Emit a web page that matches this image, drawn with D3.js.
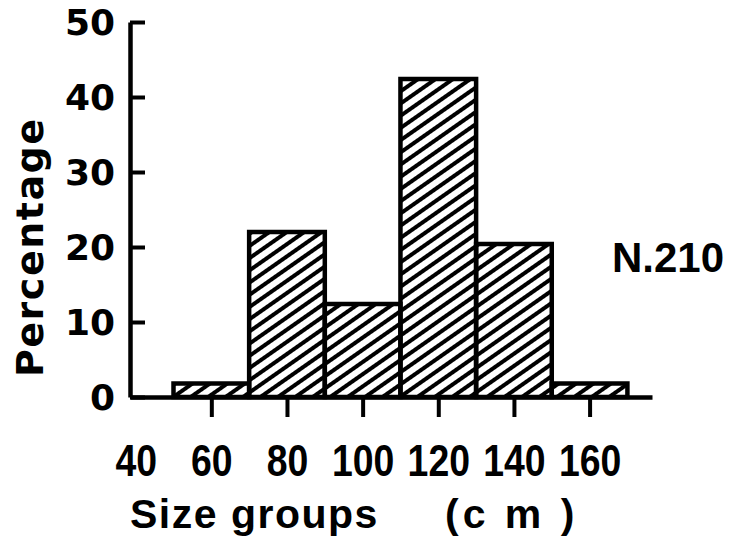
<!DOCTYPE html>
<html>
<head>
<meta charset="utf-8">
<script src="https://cdn.jsdelivr.net/npm/d3@7"></script>
<style>
  body { margin: 0; background: #fff; }
  .chart text { fill: #000; font-weight: bold; }
</style>
</head>
<body>
<div class="chart"></div>
<script>
// size groups (bin start, cm) and percentage in each
var binStart = [50, 70, 90, 110, 130, 150];
var binWidth = 20;
var percentage = [1.8, 22, 12.4, 42.4, 20.4, 1.8];
var xTicks = [40, 60, 80, 100, 120, 140, 160];
var yTicks = [0, 10, 20, 30, 40, 50];

var svgWidth = 744;
var svgHeight = 550;

var margin = { top: 22, right: 92, bottom: 153, left: 130 };
var width = svgWidth - margin.left - margin.right;
var height = svgHeight - margin.top - margin.bottom;

var svg = d3.select(".chart")
  .append("svg")
  .attr("width", svgWidth)
  .attr("height", svgHeight);

// diagonal hatching for the bars
svg.append("defs")
  .append("pattern")
  .attr("id", "hatch")
  .attr("patternUnits", "userSpaceOnUse")
  .attr("width", 10)
  .attr("height", 10)
  .attr("patternTransform", "rotate(-35)")
  .append("rect")
  .attr("width", 10)
  .attr("height", 4)
  .attr("fill", "#000");

var chartGroup = svg.append("g")
  .attr("transform", `translate(${margin.left}, ${margin.top})`);

var xScale = d3.scaleLinear()
  .domain([38.5, 176.5])
  .range([0, width]);

var yScale = d3.scaleLinear()
  .domain([0, 50])
  .range([height, 0]);

var bins = binStart.map((d, i) => ({ x0: d, x1: d + binWidth, value: percentage[i] }));

// bars
chartGroup.selectAll("rect.bar")
  .data(bins)
  .enter()
  .append("rect")
  .attr("class", "bar")
  .attr("x", d => xScale(d.x0))
  .attr("y", d => yScale(d.value))
  .attr("width", d => xScale(d.x1) - xScale(d.x0))
  .attr("height", d => yScale(0) - yScale(d.value))
  .attr("fill", "url(#hatch)")
  .attr("stroke", "#000")
  .attr("stroke-width", 4.5);

// x axis, ticks sit at the middle of each group
var bottomAxis = d3.axisBottom(xScale)
  .tickValues(xTicks)
  .tickFormat(d3.format("d"))
  .tickSizeInner(20)
  .tickSizeOuter(0);

var xAxis = chartGroup.append("g")
  .attr("transform", `translate(0, ${height})`)
  .call(bottomAxis);

xAxis.select(".domain").attr("stroke-width", 4.5);
xAxis.selectAll(".tick line").attr("stroke-width", 4);
xAxis.selectAll(".tick").filter(d => d === 40).select("line").remove();
// narrow lettering like the original
xAxis.selectAll(".tick text")
  .attr("y", 79)
  .attr("dy", 0)
  .attr("transform", "scale(0.85, 1)")
  .style("font-family", "'Liberation Sans', Arial, sans-serif")
  .style("font-size", "44px");

// y axis with ticks pointing into the plot
var leftAxis = d3.axisLeft(yScale)
  .tickValues(yTicks)
  .tickSizeInner(-15)
  .tickSizeOuter(0)
  .tickPadding(15);

var yAxis = chartGroup.append("g")
  .call(leftAxis);

yAxis.select(".domain").attr("stroke-width", 4.5);
yAxis.selectAll(".tick line").attr("stroke-width", 4);
yAxis.selectAll(".tick text")
  .attr("dy", "0.36em")
  .style("font-family", "'DejaVu Sans', sans-serif")
  .style("font-size", "36px");

// axis titles
chartGroup.append("text")
  .attr("transform", `translate(${-87}, ${height - 20}) rotate(-90)`)
  .style("font-family", "'DejaVu Sans', sans-serif")
  .style("font-size", "38px")
  .style("letter-spacing", "1.5px")
  .text("Percentage");

var xTitle = chartGroup.append("text")
  .attr("y", height + 131)
  .style("font-family", "'Liberation Sans', Arial, sans-serif")
  .style("font-size", "41px")
  .attr("xml:space", "preserve");

xTitle.append("tspan")
  .attr("x", 0)
  .style("letter-spacing", "1.5px")
  .text("Size groups");

xTitle.append("tspan")
  .attr("x", 315)
  .style("letter-spacing", "4px")
  .style("white-space", "pre")
  .text("(c m )");

// sample size
chartGroup.append("text")
  .attr("x", 482)
  .attr("y", 250)
  .style("font-family", "'Liberation Sans', Arial, sans-serif")
  .style("font-size", "42px")
  .text("N.210");
</script>
</body>
</html>
